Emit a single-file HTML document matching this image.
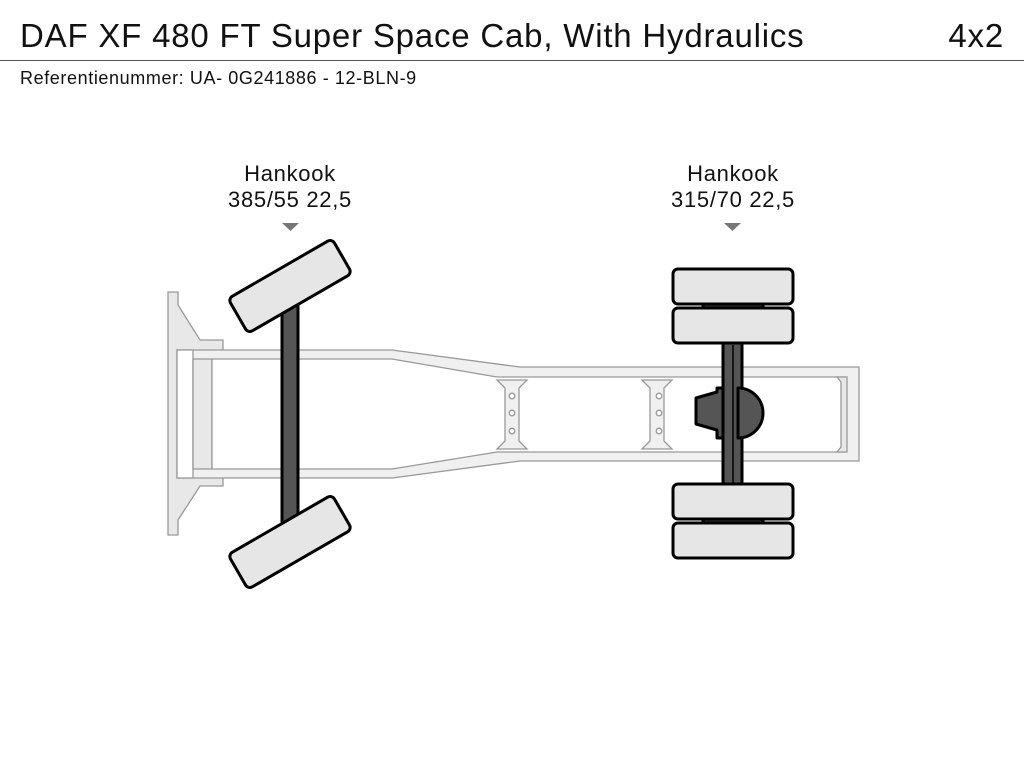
<!DOCTYPE html>
<html><head><style>
body{margin:0;width:1024px;height:768px;background:#fff;font-family:"Liberation Sans",sans-serif;overflow:hidden;position:relative}
.t{position:absolute;white-space:nowrap;color:#111}
</style></head><body>
<div class="t" style="left:20px;top:17px;font-size:33px;letter-spacing:0.8px">DAF XF 480 FT Super Space Cab, With Hydraulics</div>
<div class="t" style="right:20px;top:17px;font-size:33px;letter-spacing:0.8px">4x2</div>
<div style="position:absolute;left:0;top:60px;width:1024px;height:1px;background:#555"></div>
<div class="t" style="left:20px;top:68px;font-size:18px;letter-spacing:0.6px">Referentienummer: UA- 0G241886 - 12-BLN-9</div>
<div class="t" style="left:190px;top:161px;width:200px;text-align:center;font-size:22px;line-height:26px;letter-spacing:0.7px">Hankook<br>385/55 22,5</div>
<div class="t" style="left:633px;top:161px;width:200px;text-align:center;font-size:22px;line-height:26px;letter-spacing:0.7px">Hankook<br>315/70 22,5</div>
<svg width="1024" height="768" style="position:absolute;left:0;top:0">
<polygon points="282,223 299,223 290.5,231" fill="#777"/>
<polygon points="724,223 741,223 732.5,231" fill="#777"/>
<g stroke="#999" stroke-width="1.3">
<polygon points="168,292 178,292 178,305 200,340 223,340 223,478 223,486 200,486 178,520 178,535 168,535" fill="#e8e8e8"/>
<path d="M177,350 L392,350 L520,367 L859,367 L859,461 L520,461 L392,478 L177,478 Z" fill="#f0f0f0"/>
<rect x="177" y="350" width="16" height="128" fill="#fff"/>
<rect x="193" y="359" width="19" height="110" fill="#e8e8e8"/>
<path d="M212,359 L392,359 L497,377 L527,377 L640,377 L675,377 L845,377 L845,452 L675,452 L527,452 L497,452 L392,469 L212,469 Z" fill="#fff"/>
<path d="M497,380 L505,388 L505,441 L497,449 L527,449 L519,441 L519,388 L527,380 Z" fill="#f0f0f0"/>
<path d="M642,380 L650,388 L650,441 L642,449 L672,449 L664,441 L664,388 L672,380 Z" fill="#f0f0f0"/>
<path d="M837,377 L847,377 L847,452 L837,452 L841,447 L841,382 Z" fill="#e8e8e8"/>
<g fill="#fff"><circle cx="512" cy="396" r="2.8"/><circle cx="512" cy="413" r="2.8"/><circle cx="512" cy="431" r="2.8"/>
<circle cx="659" cy="396" r="2.8"/><circle cx="659" cy="413" r="2.8"/><circle cx="659" cy="431" r="2.8"/></g>
</g>
<g stroke="#000" stroke-width="3" stroke-linejoin="round">
<rect x="282" y="295" width="16" height="235" fill="#555"/>
<rect x="230" y="266" width="120" height="40" rx="5" fill="#e6e6e6" transform="rotate(-30 290 286)"/>
<rect x="230" y="522" width="120" height="40" rx="5" fill="#e6e6e6" transform="rotate(-30 290 542)"/>
<rect x="703" y="300" width="60" height="10" fill="#333"/>
<rect x="703" y="516" width="60" height="10" fill="#333"/>
<rect x="723" y="340" width="19" height="148" fill="#555"/>
<path d="M738,388 A25,25 0 0 1 738,438 Z" fill="#555"/>
<path d="M717,388 L723,388 L723,438 L717,438 L717,430 L696,424 L696,398 L717,392 Z" fill="#555"/>
<line x1="733" y1="345" x2="733" y2="484" stroke-width="1.5"/>
<rect x="673" y="269" width="120" height="35" rx="5" fill="#e6e6e6"/>
<rect x="673" y="308" width="120" height="35" rx="5" fill="#e6e6e6"/>
<rect x="673" y="484" width="120" height="35" rx="5" fill="#e6e6e6"/>
<rect x="673" y="523" width="120" height="35" rx="5" fill="#e6e6e6"/>
</g>
</svg>
</body></html>
